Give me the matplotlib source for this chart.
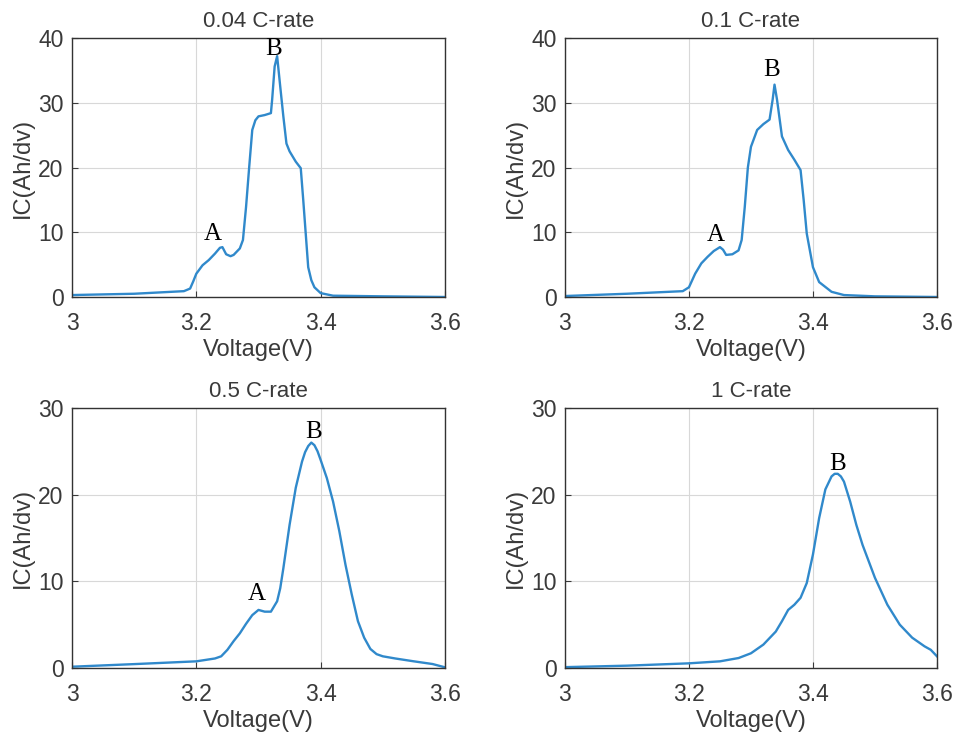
import matplotlib
matplotlib.use("Agg")
import matplotlib.pyplot as plt

plt.rcParams["font.family"] = ["Liberation Sans", "DejaVu Sans"]

# 0.04 C-rate
v1 = [3.0, 3.1, 3.18, 3.19, 3.195, 3.2, 3.21, 3.22, 3.23, 3.238, 3.242, 3.248, 3.255,
      3.26, 3.27, 3.275, 3.28, 3.285, 3.29, 3.295, 3.3, 3.31, 3.32, 3.322, 3.326,
      3.33, 3.335, 3.34, 3.345, 3.35, 3.36, 3.368, 3.372, 3.376, 3.38, 3.385,
      3.39, 3.4, 3.42, 3.5, 3.6]
ic1 = [0.3, 0.5, 0.9, 1.3, 2.4, 3.6, 4.9, 5.7, 6.7, 7.6, 7.7, 6.6, 6.3,
       6.5, 7.5, 8.8, 13.9, 20.0, 25.8, 27.3, 27.9, 28.1, 28.4, 30.5, 35.6,
       37.2, 32.5, 27.9, 23.7, 22.5, 20.9, 19.9, 15.0, 9.8, 4.6, 2.6,
       1.5, 0.6, 0.2, 0.1, 0.0]

# 0.1 C-rate
v2 = [3.0, 3.1, 3.19, 3.2, 3.21, 3.22, 3.23, 3.24, 3.25, 3.255, 3.26, 3.27, 3.28,
      3.285, 3.29, 3.295, 3.3, 3.31, 3.32, 3.33, 3.335, 3.338, 3.342, 3.35,
      3.36, 3.37, 3.38, 3.385, 3.39, 3.4, 3.41, 3.43, 3.45, 3.5, 3.6]
ic2 = [0.15, 0.5, 0.9, 1.5, 3.6, 5.2, 6.2, 7.1, 7.7, 7.3, 6.5, 6.6, 7.2,
       8.8, 13.9, 20.0, 23.2, 25.8, 26.7, 27.4, 30.5, 32.8, 30.5, 24.8,
       22.7, 21.2, 19.6, 15.0, 9.8, 4.6, 2.3, 0.8, 0.3, 0.1, 0.0]

# 0.5 C-rate
v3 = [3.0, 3.1, 3.2, 3.23, 3.24, 3.25, 3.26, 3.27, 3.28, 3.29, 3.3, 3.31, 3.32,
      3.33, 3.335, 3.34, 3.35, 3.36, 3.37, 3.375, 3.38, 3.385, 3.39, 3.395, 3.4,
      3.41, 3.42, 3.43, 3.44, 3.45, 3.46, 3.47, 3.48, 3.49, 3.5, 3.52, 3.55,
      3.58, 3.6]
ic3 = [0.15, 0.45, 0.77, 1.1, 1.35, 2.1, 3.1, 4.0, 5.1, 6.1, 6.7, 6.5, 6.5,
       7.7, 9.2, 11.5, 16.5, 20.8, 23.8, 24.9, 25.6, 26.0, 25.7, 25.0, 24.0,
       21.9, 19.2, 15.8, 11.9, 8.5, 5.4, 3.5, 2.2, 1.6, 1.35, 1.1, 0.77,
       0.46, 0.08]

# 1 C-rate
v4 = [3.0, 3.1, 3.2, 3.25, 3.28, 3.3, 3.32, 3.34, 3.35, 3.36, 3.37, 3.38, 3.39,
      3.4, 3.41, 3.42, 3.43, 3.435, 3.44, 3.445, 3.45, 3.46, 3.47, 3.48, 3.49,
      3.5, 3.52, 3.54, 3.56, 3.58, 3.59, 3.6]
ic4 = [0.1, 0.27, 0.54, 0.77, 1.15, 1.7, 2.7, 4.2, 5.4, 6.7, 7.3, 8.1, 9.8,
       13.1, 17.3, 20.6, 22.1, 22.4, 22.4, 22.1, 21.5, 19.2, 16.5, 14.2, 12.3,
       10.4, 7.3, 5.0, 3.5, 2.5, 2.1, 1.35]

titles = ["0.04 C-rate", "0.1 C-rate", "0.5 C-rate", "1 C-rate"]
ymax = [40, 40, 30, 30]
xticks = [3, 3.2, 3.4, 3.6]
xticklabels = ["3", "3.2", "3.4", "3.6"]

# peak labels: (voltage, IC, letter)
peaks = [
    [(3.226, 9.8, "A"), (3.325, 38.3, "B")],
    [(3.243, 9.5, "A"), (3.334, 35.1, "B")],
    [(3.297, 8.5, "A"), (3.388, 27.2, "B")],
    [(3.439, 23.5, "B")],
]

data = [(v1, ic1), (v2, ic2), (v3, ic3), (v4, ic4)]

fig = plt.figure(figsize=(9.6, 7.41), dpi=100)
positions = [
    [0.075, 0.5992, 0.3885, 0.3495],
    [0.5885, 0.5992, 0.3875, 0.3495],
    [0.075, 0.0985, 0.3885, 0.351],
    [0.5885, 0.0985, 0.3875, 0.351],
]
txt = "#3a3a3a"

for i in range(4):
    ax = fig.add_axes(positions[i])
    v, ic = data[i]
    ax.plot(v, ic, color="#3089cb", lw=1.7, solid_joinstyle="round")
    ax.set_xlim(3, 3.6)
    ax.set_ylim(0, ymax[i])
    ax.set_xticks(xticks)
    ax.set_xticklabels(xticklabels)
    ax.set_yticks(range(0, ymax[i] + 1, 10))
    ax.grid(True, color="#d8d8d8", lw=0.8)
    ax.set_axisbelow(True)
    ax.tick_params(direction="in", length=4, labelsize=16.5, colors=txt, width=0.8)
    ax.tick_params(axis="x", pad=11)
    ax.tick_params(axis="y", pad=6)
    for s in ax.spines.values():
        s.set_color("#333333")
        s.set_linewidth(1.0)
    ax.set_title(titles[i], fontsize=16, color=txt, pad=8)
    ax.set_xlabel("Voltage(V)", fontsize=17, color=txt, labelpad=3)
    ax.set_ylabel("IC(Ah/dv)", fontsize=17, color=txt, labelpad=3)
    for x, y, s in peaks[i]:
        ax.text(x, y, s, ha="center", va="center", fontsize=18,
                family=["Liberation Serif", "DejaVu Serif"], color="black")

fig.savefig("out.png", dpi=100)
